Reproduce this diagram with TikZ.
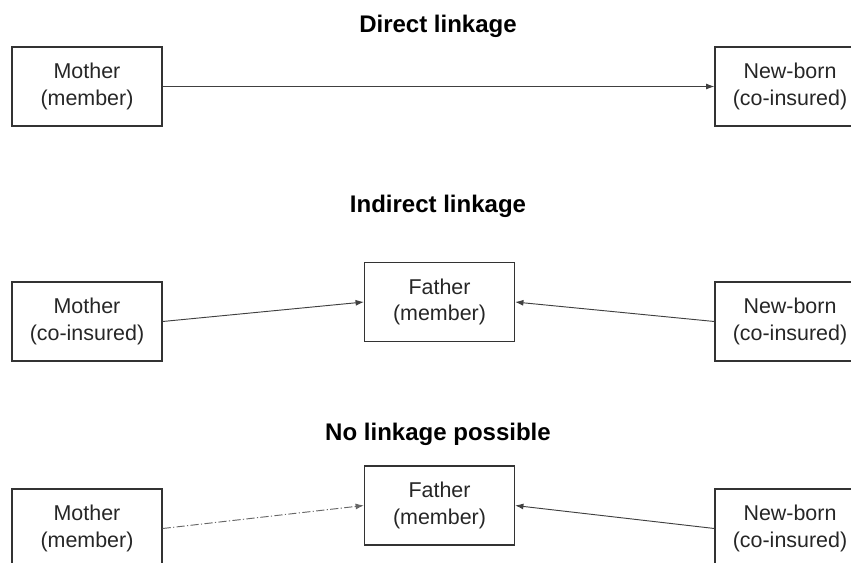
\documentclass[tikz,border=0pt]{standalone}
\usepackage{fontspec}
\setmainfont{Liberation Sans}
\usetikzlibrary{arrows.meta}

\tikzset{
  box/.style={draw=black!80, line width=1pt, minimum width=4.5cm, minimum height=2.37cm,
    inner sep=0pt, align=center, font=\fontsize{18.3}{22.5}\selectfont, text=black!85},
  title/.style={anchor=base, font=\fontsize{20.5}{24}\selectfont\bfseries},
  link/.style={draw=black!75, line width=0.8pt, -{Latex[length=2.5mm,width=1.8mm]}},
}

\begin{document}
\begin{tikzpicture}[x=0.03cm, y=-0.03cm]
    \useasboundingbox (0,0) rectangle (851,562);
    \clip (0,0) rectangle (851,562);

    % direct linkage
    \node[title] (t1) at (438,33) {Direct linkage};
    \node[box] (m1) at (87,86.5) {Mother\\(member)};
    \node[box] (n1) at (790,86.5) {New-born\\(co-insured)};
    \draw[link] (m1.east) -- (n1.west);

    % indirect linkage
    \node[title] (t2) at (438,212) {Indirect linkage};
    \node[box] (m2) at (87,321.5) {Mother\\(co-insured)};
    \node[box] (f2) at (439.5,302) {Father\\(member)};
    \node[box] (n2) at (790,321.5) {New-born\\(co-insured)};
    \draw[link] (m2.east) -- (f2.west);
    \draw[link] (n2.west) -- (f2.east);

    % no linkage possible
    \node[title] (t3) at (438,440) {No linkage possible};
    \node[box] (m3) at (87,528.5) {Mother\\(member)};
    \node[box] (f3) at (439.5,505.5) {Father\\(member)};
    \node[box] (n3) at (790,528.5) {New-born\\(co-insured)};
    \draw[link, draw=black!60, dash pattern=on 7pt off 2pt on 1pt off 2pt] (m3.east) -- (f3.west);
    \draw[link] (n3.west) -- (f3.east);
\end{tikzpicture}
\end{document}
